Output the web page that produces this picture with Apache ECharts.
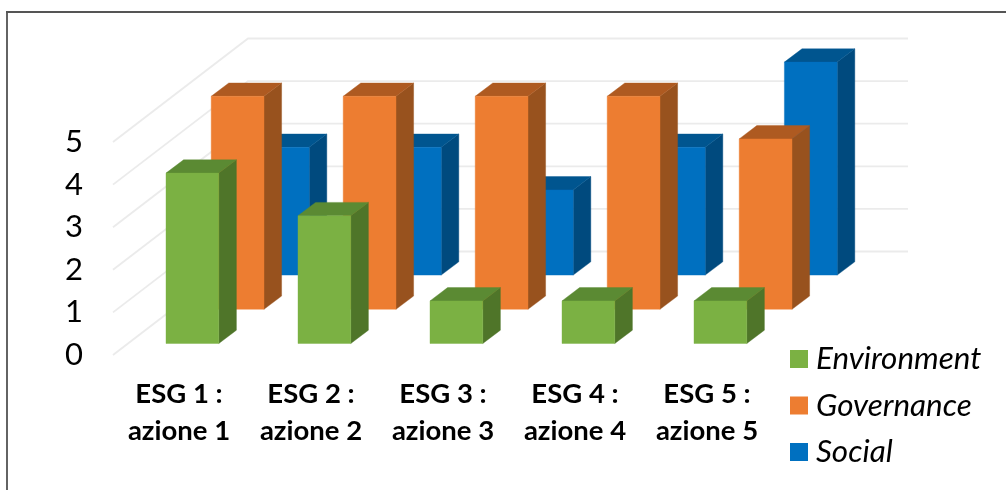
<!DOCTYPE html>
<html>
<head>
<meta charset="utf-8">
<style>html,body{margin:0;padding:0;background:#fff}#chart{width:1006px;height:490px}</style>
<script src="https://cdn.jsdelivr.net/npm/echarts@6/dist/echarts.min.js"></script>
</head>
<body>
<div id="chart"></div>
<script>
const categories = ['ESG 1 :\nazione 1', 'ESG 2 :\nazione 2', 'ESG 3 :\nazione 3', 'ESG 4 :\nazione 4', 'ESG 5 :\nazione 5'];
const environment = [4, 3, 1, 1, 1];
const governance = [5, 5, 5, 5, 4];
const social = [3, 3, 2, 3, 5];
const yTicks = [0, 1, 2, 3, 4, 5];

// Oblique projection used for the pseudo-3D look (pixels)
const WALL_DX = 135, WALL_DY = 103.5;
const SIDE_DX = 17.6, SIDE_DY = 13.3;
const LAYER_DX = 45.2, LAYER_DY = 34.2;
const FRONT_DX = 13.4, FRONT_DY = 11.5;
const BAR_SHARE = 0.4;

const chart = echarts.init(document.getElementById('chart'), null, { renderer: 'canvas' });

// One box: front face, roof and right-hand side, pushed back by `layer` rows
function boxRenderer(layer, front, roof, side) {
  return function (params, api) {
    const cat = api.value(0), val = api.value(1);
    const base = api.coord([cat, 0]);
    const top = api.coord([cat, val]);
    const w = api.size([1, 0])[0] * BAR_SHARE;
    const x0 = base[0] + FRONT_DX + layer * LAYER_DX - w / 2;
    const x1 = x0 + w;
    const yb = base[1] - FRONT_DY - layer * LAYER_DY;
    const yt = top[1] - FRONT_DY - layer * LAYER_DY;
    const poly = (points, fill) => ({ type: 'polygon', shape: { points }, style: { fill, stroke: fill, lineWidth: 0.4 } });
    return {
      type: 'group',
      children: [
        poly([[x1, yb], [x1 + SIDE_DX, yb - SIDE_DY], [x1 + SIDE_DX, yt - SIDE_DY], [x1, yt]], side),
        poly([[x0, yt], [x0 + SIDE_DX, yt - SIDE_DY], [x1 + SIDE_DX, yt - SIDE_DY], [x1, yt]], roof),
        poly([[x0, yb], [x1, yb], [x1, yt], [x0, yt]], front)
      ]
    };
  };
}

// Value gridline running along the left wall, then across the back wall
function wallRenderer(params, api) {
  const p = api.coord([0, api.value(0)]);
  const left = params.coordSys.x, right = left + params.coordSys.width;
  return {
    type: 'polyline',
    shape: { points: [[left, p[1]], [left + WALL_DX, p[1] - WALL_DY], [right + WALL_DX, p[1] - WALL_DY]] },
    style: { fill: 'none', stroke: '#ebebeb', lineWidth: 1.8 }
  };
}

function boxSeries(name, values, layer, front, roof, side, z) {
  return {
    name, type: 'custom', z, clip: false,
    itemStyle: { color: front },
    encode: { x: 0, y: 1 },
    data: values.map((v, i) => [i, v]),
    renderItem: boxRenderer(layer, front, roof, side)
  };
}

chart.setOption({
  animation: false,
  backgroundColor: '#ffffff',
  textStyle: { fontFamily: 'Lato' },
  grid: { left: 113, top: 142, width: 660, height: 213, containLabel: false },
  xAxis: {
    type: 'category', data: categories, boundaryGap: true,
    axisLine: { show: false }, axisTick: { show: false }, splitLine: { show: false },
    axisLabel: { fontFamily: 'Lato', fontWeight: 'bold', fontSize: 27.5, color: '#000', lineHeight: 37, margin: 21, interval: 0 }
  },
  yAxis: {
    type: 'value', min: 0, max: 5, interval: 1,
    axisLine: { show: false }, axisTick: { show: false }, splitLine: { show: false },
    axisLabel: { fontFamily: 'Lato', fontSize: 31, color: '#000', margin: 30, padding: [3, 0, 0, 0] }
  },
  legend: {
    orient: 'vertical', left: 790, top: 343, padding: 0, itemWidth: 18, itemHeight: 18, itemGap: 14.5,
    selectedMode: false,
    icon: 'rect',
    data: ['Environment', 'Governance', 'Social'],
    textStyle: { fontFamily: 'Lato', fontStyle: 'italic', fontSize: 31.4, lineHeight: 32, color: '#000', padding: [0, 0, 0, 3] }
  },
  graphic: [
    { type: 'line', silent: true, z: 100, shape: { x1: 7, y1: 12, x2: 7, y2: 490 },
      style: { stroke: '#222222', lineWidth: 1.4 } },
    { type: 'line', silent: true, z: 100, shape: { x1: 6, y1: 12, x2: 1006, y2: 12 },
      style: { stroke: '#555555', lineWidth: 1.8 } }
  ],
  series: [
    { type: 'custom', z: 1, clip: false, coordinateSystem: 'cartesian2d',
      data: yTicks.map(v => [v]), renderItem: wallRenderer, encode: { x: -1, y: 0 } },
    boxSeries('Environment', environment, 0, '#7bb143', '#5b8a33', '#4f7529', 4),
    boxSeries('Governance', governance, 1, '#ed7d31', '#ae5a21', '#98521e', 3),
    boxSeries('Social', social, 2, '#0070c0', '#00558f', '#004a7e', 2)
  ]
});
</script>
</body>
</html>
